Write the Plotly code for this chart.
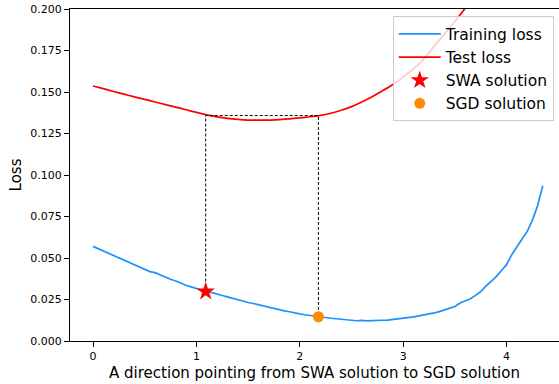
import numpy as np
import plotly.graph_objects as go

# Training loss along the direction (step 0.05)
train_x = [round(0.05 * i, 2) for i in range(88)]
train_loss = [
    0.0570, 0.0556, 0.0542, 0.0528, 0.0512, 0.0499, 0.0486, 0.0475, 0.0459, 0.0447,
    0.0433, 0.0418, 0.0412, 0.0397, 0.0385, 0.0372, 0.0361, 0.0347, 0.0336, 0.0326,
    0.0316, 0.0306, 0.0297, 0.0291, 0.0281, 0.0274, 0.0266, 0.0257, 0.0249, 0.0240,
    0.0232, 0.0226, 0.0218, 0.0209, 0.0202, 0.0196, 0.0189, 0.0181, 0.0176, 0.0168,
    0.0163, 0.0158, 0.0153, 0.0149, 0.0144, 0.0141, 0.0137, 0.0134, 0.0131, 0.0127,
    0.0124, 0.0122, 0.0124, 0.0121, 0.0123, 0.0122, 0.0125, 0.0126, 0.0129, 0.0133,
    0.0137, 0.0140, 0.0145, 0.0151, 0.0156, 0.0160, 0.0169, 0.0177, 0.0187, 0.0198,
    0.0208, 0.0229, 0.0240, 0.0255, 0.0275, 0.0298, 0.0330, 0.0360, 0.0388, 0.0425,
    0.0460, 0.0520, 0.0570, 0.0615, 0.0660, 0.0728, 0.0815, 0.0935,
]

# Test loss along the same direction (step 0.1)
test_x = [round(0.1 * i, 1) for i in range(39)]
test_loss = [
    0.1536, 0.1520, 0.1503, 0.1487, 0.1471, 0.1456, 0.1440, 0.1424, 0.1409, 0.1393,
    0.1377, 0.1362, 0.1350, 0.1341, 0.1335, 0.1331, 0.1330, 0.1331, 0.1334, 0.1338,
    0.1344, 0.1351, 0.1359, 0.1372, 0.1390, 0.1412, 0.1440, 0.1472, 0.1507, 0.1545,
    0.1590, 0.1640, 0.1700, 0.1775, 0.1850, 0.1925, 0.2005, 0.2090, 0.2180,
]

# Solutions
swa_x, swa_train, swa_test = 1.09, 0.0298, 0.1358
sgd_x, sgd_train, sgd_test = 2.18, 0.0146, 0.1358

font = "DejaVu Sans"

fig = go.Figure()
fig.add_trace(go.Scatter(x=train_x, y=train_loss, mode="lines", name="Training loss",
                         line=dict(color="#1e90ff", width=1.7)))
fig.add_trace(go.Scatter(x=test_x, y=test_loss, mode="lines", name="Test loss",
                         line=dict(color="#ff0000", width=1.7, shape="spline",
                                   smoothing=0.8)))
# Dashed connector between the two solutions
fig.add_trace(go.Scatter(x=[swa_x, swa_x, sgd_x, sgd_x],
                         y=[swa_train, swa_test, sgd_test, sgd_train],
                         mode="lines", showlegend=False,
                         line=dict(color="black", width=1, dash="3px,2px")))
fig.add_trace(go.Scatter(x=[swa_x], y=[swa_train], mode="markers", name="SWA solution",
                         marker=dict(symbol="star", color="#ff0000", size=14,
                                     line=dict(width=0))))
fig.add_trace(go.Scatter(x=[sgd_x], y=[sgd_train], mode="markers", name="SGD solution",
                         marker=dict(symbol="circle", color="#ff8c00", size=11,
                                     line=dict(width=0))))

fig.update_layout(
    width=559, height=384,
    margin=dict(l=70, r=0, t=9, b=43),
    paper_bgcolor="white", plot_bgcolor="white",
    font=dict(family=font, color="black", size=11),
    legend=dict(x=0.66, y=0.978, xanchor="left", yanchor="top",
                bgcolor="rgba(255,255,255,0.8)", bordercolor="#cccccc", borderwidth=1,
                itemwidth=42,
                font=dict(size=15.5, family=font)),
)
fig.update_xaxes(
    range=[-0.2224, 4.507], tickvals=[0, 1, 2, 3, 4],
    showgrid=False, zeroline=False, showline=True, linecolor="black", linewidth=1,
    mirror=True, ticks="outside", ticklen=5, tickcolor="black",
    tickfont=dict(size=11),
    title=dict(text="A direction pointing from SWA solution to SGD solution",
               font=dict(size=15), standoff=5),
)
fig.update_yaxes(
    range=[0, 0.2], tickvals=[0, 0.025, 0.05, 0.075, 0.1, 0.125, 0.15, 0.175, 0.2],
    tickformat=".3f",
    showgrid=False, zeroline=False, showline=True, linecolor="black", linewidth=1,
    ticks="outside", ticklen=5, tickcolor="black",
    tickfont=dict(size=11),
    title=dict(text="Loss", font=dict(size=15), standoff=5),
)

fig.write_html("out.html")
